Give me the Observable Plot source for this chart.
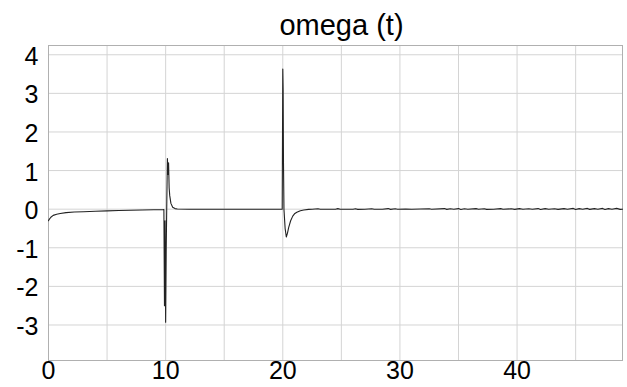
<!DOCTYPE html>
<html><head>
<meta charset="utf-8">
<script src="https://cdn.jsdelivr.net/npm/d3@7"></script>
<script src="https://cdn.jsdelivr.net/npm/@observablehq/plot@0.6"></script>
<style>body{margin:0;background:#fff;} svg{font-family:"Liberation Sans",Arial,sans-serif;}</style>
</head><body><div id="chart"></div>
<script>
const title = "omega (t)";
const t = [0, 0.05, 0.2, 0.4, 0.7, 1.0, 1.5, 2.2, 3.0, 4.0, 5.0, 6.0, 7.0, 8.0, 9.0, 9.8,
  9.85, 9.9, 9.95, 10.0, 10.05, 10.1, 10.15, 10.2, 10.25, 10.3, 10.35, 10.45, 10.6, 10.8, 11.0, 12.0, 15.0, 19.9,
  19.95, 20.0, 20.03, 20.06, 20.1, 20.2, 20.3, 20.4, 20.5, 20.67, 20.85, 21.0, 21.2, 21.5, 21.8, 22.2,
  22.5, 23.0, 23.2, 24.5, 24.7, 24.9, 26.0, 26.2, 26.4, 27.0, 27.6, 27.8, 28.5, 29.0, 29.2, 29.6, 29.8, 30.5, 31.0,
  32.5, 32.7, 33.8, 34.0, 34.3, 34.6, 35.0, 35.2, 35.5, 35.8, 36.5, 36.7, 37.2, 37.4, 38.0, 38.6, 38.8, 39.5, 39.8,
  40.2, 40.5, 41.0, 41.3, 41.8, 42.0, 42.4, 42.7, 43.2, 43.5, 44.0, 44.3, 44.8, 45.0, 45.3, 45.6, 46.0, 46.2, 46.6,
  46.9, 47.3, 47.5, 47.8, 48.1, 48.5, 48.8, 49.0];
const omega = [-0.30, -0.27, -0.21, -0.16, -0.13, -0.11, -0.09, -0.075, -0.065, -0.055, -0.045, -0.035, -0.028, -0.022, -0.016, -0.012,
  -0.01, -2.5, -0.3, -2.93, -1.0, 0.2, 1.31, 0.9, 1.2, 0.55, 0.35, 0.15, 0.05, 0.015, 0.005, 0.0, 0.0, 0.0,
  0.0, 3.63, 3.1, 1.2, 0.0, -0.5, -0.72, -0.62, -0.48, -0.30, -0.18, -0.12, -0.08, -0.04, -0.02, -0.005,
  0.0, 0.01, 0.0, 0.0, 0.015, 0.0, 0.0, 0.01, -0.005, 0.0, 0.01, 0.0, 0.0, 0.015, -0.005, 0.01, 0.0, 0.005, 0.0,
  0.01, 0.0, 0.015, -0.005, 0.01, 0.0, 0.015, -0.01, 0.01, 0.0, 0.015, 0.0, 0.01, -0.005, 0.0, 0.015, 0.0, 0.01, -0.005,
  0.015, 0.0, 0.01, 0.0, 0.015, -0.01, 0.015, 0.0, 0.01, -0.005, 0.015, 0.0, 0.02, -0.01, 0.015, 0.0, 0.02, -0.005, 0.015,
  0.0, 0.02, -0.01, 0.015, 0.0, 0.02, -0.005, 0.0];
const xTicks = [0, 10, 20, 30, 40];
const xGrid = [0, 5, 10, 15, 20, 25, 30, 35, 40, 45];
const yTicks = [-3, -2, -1, 0, 1, 2, 3, 4];

const data = t.map((d, i) => ({t: d, w: omega[i]}));

const chart = Plot.plot({
  width: 627, height: 387,
  marginLeft: 48, marginRight: 5, marginTop: 45, marginBottom: 27,
  style: {fontFamily: "'Liberation Sans', Arial, sans-serif", background: "#fff", color: "#000"},
  x: {domain: [0, 49]},
  y: {domain: [-3.92, 4.24]},
  marks: [
    Plot.gridX(xGrid, {stroke: "#d4d4d4", strokeOpacity: 1}),
    Plot.gridY(yTicks, {stroke: "#d4d4d4", strokeOpacity: 1}),
    Plot.frame({stroke: "#b0b0b0"}),
    Plot.axisX(xTicks, {tickSize: 0, tickPadding: 1, fontSize: 25, tickFormat: d => String(d), label: null}),
    Plot.axisY(yTicks, {tickSize: 0, tickPadding: 10, fontSize: 25, tickFormat: d => String(d), label: null, dy: 2}),
    Plot.line(data, {x: "t", y: "w", stroke: "#222", strokeWidth: 1.1}),
    Plot.text([title], {frameAnchor: "top", dy: -31, dx: 6, fontSize: 29, text: d => d, fill: "#000"})
  ]
});
document.getElementById("chart").appendChild(chart);
</script>
</body></html>
